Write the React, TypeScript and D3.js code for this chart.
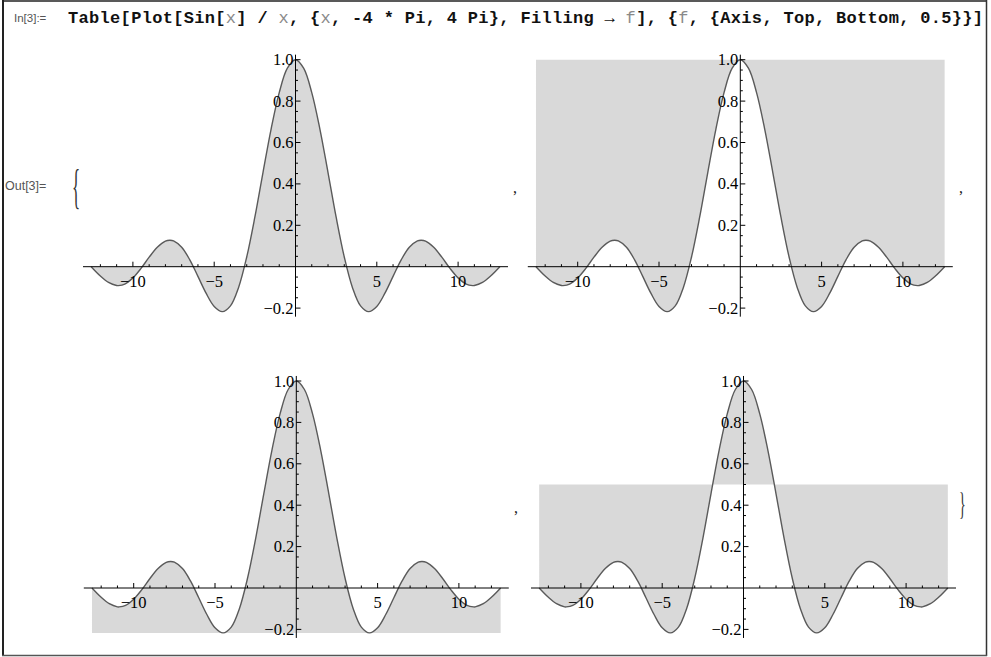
import React from "react";
import * as d3 from "d3";

const xValues = [
  -12.566, -12, -11.5, -11, -10.9, -10.5, -10, -9.5, -9, -8.5, -8, -7.73, -7.5, -7, -6.5, -6, -5.5, -5, -4.5, -4, -3.5, -3,
  -2.5, -2, -1.5, -1, -0.5, 0, 0.5, 1, 1.5, 2, 2.5, 3, 3.5, 4, 4.5, 5, 5.5, 6, 6.5, 7, 7.5, 7.73, 8, 8.5, 9, 9.5, 10,
  10.5, 10.9, 11, 11.5, 12, 12.566,
];
const yValues = [
  0, -0.045, -0.076, -0.091, -0.0913, -0.084, -0.054, -0.008, 0.046, 0.094, 0.124, 0.128, 0.125, 0.094, 0.033, -0.047, -0.128,
  -0.192, -0.217, -0.189, -0.1, 0.047, 0.239, 0.455, 0.665, 0.841, 0.959, 1.0, 0.959, 0.841, 0.665, 0.455, 0.239, 0.047,
  -0.1, -0.189, -0.217, -0.192, -0.128, -0.047, 0.033, 0.094, 0.125, 0.128, 0.124, 0.094, 0.046, -0.008, -0.054, -0.084,
  -0.0913, -0.091, -0.076, -0.045, 0,
];

const xMajorTicks = [-10, -5, 5, 10];
const xTickLabels = ["\u221210", "\u22125", "5", "10"];
const xMinorTicks = [-12, -11, -9, -8, -7, -6, -4, -3, -2, -1, 1, 2, 3, 4, 6, 7, 8, 9, 11, 12];
const yMajorTicks = [-0.2, 0.2, 0.4, 0.6, 0.8, 1.0];
const yTickLabels = ["\u22120.2", "0.2", "0.4", "0.6", "0.8", "1.0"];
const yMinorTicks = [-0.15, -0.1, -0.05, 0.05, 0.1, 0.15, 0.25, 0.3, 0.35, 0.45, 0.5, 0.55, 0.65, 0.7, 0.75, 0.85, 0.9, 0.95];
const fillingModes = ["Axis", "Top", "Bottom", "0.5"];

// layout of the four plots (Table output arranged in a grid)
const panels = [
  { cx: 295.5, y0: 266.7, sep: ",", sepX: 513, sepY: 193 },
  { cx: 740.3, y0: 266.7, sep: ",", sepX: 959, sepY: 193 },
  { cx: 296.3, y0: 588, sep: ",", sepX: 514, sepY: 513 },
  { cx: 743.5, y0: 588, sep: "", sepX: 0, sepY: 0 },
];
const PX_X = 16.26;
const PX_Y = 207;

const CURVE = "#5a5a5a";
const FILL = "#d9d9d9";

function Panel({ cx, y0, mode }: { cx: number; y0: number; mode: string }) {
  const [xmin, xmax] = d3.extent(xValues) as [number, number];
  const [ymin, ymax] = d3.extent(yValues) as [number, number];
  const padX = 0.02 * (xmax - xmin);
  const padY = 0.02 * (ymax - ymin);
  const x = d3.scaleLinear().domain([0, 1]).range([cx, cx + PX_X]);
  const y = d3.scaleLinear().domain([0, 1]).range([y0, y0 - PX_Y]);
  const pts = xValues.map((v, i) => [v, yValues[i]] as [number, number]);
  const base =
    mode === "Axis" ? 0 : mode === "Top" ? ymax : mode === "Bottom" ? ymin : parseFloat(mode);
  const curve = d3.curveCatmullRom.alpha(0.5);
  const area = d3
    .area<[number, number]>()
    .x((d) => x(d[0]))
    .y0(y(base))
    .y1((d) => y(d[1]))
    .curve(curve);
  const line = d3
    .line<[number, number]>()
    .x((d) => x(d[0]))
    .y((d) => y(d[1]))
    .curve(curve);
  const ax = x(0);
  const ay = y(0);
  const font = "'Liberation Serif', 'Times New Roman', serif";
  return (
    <g>
      <path d={area(pts) || ""} fill={FILL} stroke="none" />
      <path d={line(pts) || ""} fill="none" stroke={CURVE} strokeWidth={1.4} />
      {/* x axis */}
      <line x1={x(xmin - padX)} x2={x(xmax + padX)} y1={ay} y2={ay} stroke="#000" strokeWidth={1} />
      {xMinorTicks.map((t) => (
        <line key={"xm" + t} x1={x(t)} x2={x(t)} y1={ay} y2={ay - 2.5} stroke="#000" strokeWidth={1} />
      ))}
      {xMajorTicks.map((t, i) => (
        <g key={"xM" + t}>
          <line x1={x(t)} x2={x(t)} y1={ay} y2={ay - 5} stroke="#000" strokeWidth={1} />
          <text x={x(t)} y={ay + 20} textAnchor="middle" fontFamily={font} fontSize={16.5} fill="#000">
            {xTickLabels[i]}
          </text>
        </g>
      ))}
      {/* y axis */}
      <line x1={ax} x2={ax} y1={y(ymin - padY)} y2={y(ymax + padY)} stroke="#000" strokeWidth={1} />
      {yMinorTicks.map((t) => (
        <line key={"ym" + t} x1={ax} x2={ax + 2.5} y1={y(t)} y2={y(t)} stroke="#000" strokeWidth={1} />
      ))}
      {yMajorTicks.map((t, i) => (
        <g key={"yM" + t}>
          <line x1={ax} x2={ax + 5} y1={y(t)} y2={y(t)} stroke="#000" strokeWidth={1} />
          <text x={ax - 2} y={y(t) + 5.5} textAnchor="end" fontFamily={font} fontSize={16.5} fill="#000">
            {yTickLabels[i]}
          </text>
        </g>
      ))}
    </g>
  );
}

export default function App() {
  const mono = "'Liberation Mono', 'Courier New', monospace";
  const sans = "'Liberation Sans', Arial, sans-serif";
  const serif = "'Liberation Serif', 'Times New Roman', serif";
  const gray = { fill: "#8a8a8a", fontWeight: 400 } as const;
  return (
    <svg
      width={991}
      height={657}
      style={{ position: "absolute", left: 0, top: 0, background: "#fff" }}
    >
      <rect x={0} y={0} width={991} height={657} fill="#fff" />
      {/* frame */}
      <line x1={3} x2={3} y1={0} y2={656} stroke="#222" strokeWidth={2} />
      <line x1={2} x2={987} y1={1} y2={1} stroke="#222" strokeWidth={1.5} />
      <line x1={986.5} x2={986.5} y1={0} y2={656} stroke="#333" strokeWidth={1.5} />
      <line x1={2} x2={987} y1={655.5} y2={655.5} stroke="#555" strokeWidth={1.5} />

      <text x={14} y={22} fontFamily={sans} fontSize={11.5} fill="#555">
        In[3]:=
      </text>
      <text
        x={68}
        y={22.5}
        fontFamily={mono}
        fontSize={17}
        fontWeight={700}
        fill="#111"
        textLength={915}
        lengthAdjust="spacing"
      >
        Table[Plot[Sin[<tspan {...gray}>x</tspan>] / <tspan {...gray}>x</tspan>, {"{"}
        <tspan {...gray}>x</tspan>, -4 * Pi, 4 Pi{"}"}, Filling {"\u2192"} <tspan {...gray}>f</tspan>], {"{"}
        <tspan {...gray}>f</tspan>, {"{"}Axis, Top, Bottom, 0.5{"}}]"}
      </text>

      <text x={5} y={190} fontFamily={sans} fontSize={12.5} fill="#555">
        Out[3]=
      </text>
      <text
        x={0}
        y={0}
        fontFamily={serif}
        fontSize={34}
        fontWeight={300}
        fill="#333"
        transform="translate(72,203) scale(0.5,1.4)"
      >
        {"{"}
      </text>

      {panels.map((p, i) => (
        <Panel key={i} cx={p.cx} y0={p.y0} mode={fillingModes[i]} />
      ))}
      {panels.map((p, i) =>
        p.sep ? (
          <text key={"s" + i} x={p.sepX} y={p.sepY} fontFamily={serif} fontSize={16} fill="#222">
            {p.sep}
          </text>
        ) : null
      )}
      <text
        x={0}
        y={0}
        fontFamily={serif}
        fontSize={28}
        fontWeight={300}
        fill="#333"
        transform="translate(959,515) scale(0.5,1.15)"
      >
        {"}"}
      </text>
    </svg>
  );
}
